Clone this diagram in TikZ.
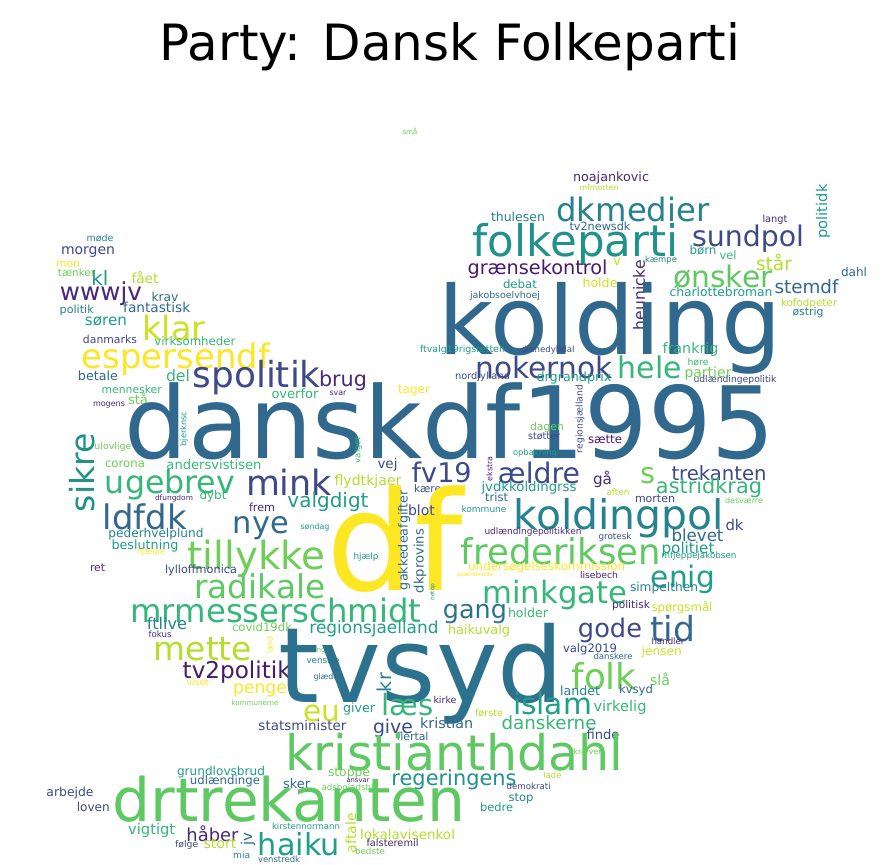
\documentclass[tikz,border=0pt]{standalone}
\usepackage{fontspec}
\setmainfont{DejaVu Sans}
\usepackage{graphicx}
\definecolor{V0}{RGB}{68,1,84}
\definecolor{V01}{RGB}{72,26,108}
\definecolor{V1}{RGB}{72,40,120}
\definecolor{V2}{RGB}{62,73,137}
\definecolor{V3}{RGB}{49,104,142}
\definecolor{V34}{RGB}{44,113,142}
\definecolor{V4}{RGB}{38,130,142}
\definecolor{V45}{RGB}{33,145,140}
\definecolor{V5}{RGB}{31,158,137}
\definecolor{V6}{RGB}{53,183,121}
\definecolor{V67}{RGB}{94,201,98}
\definecolor{V7}{RGB}{110,206,88}
\definecolor{V8}{RGB}{181,222,43}
\definecolor{V89}{RGB}{205,225,35}
\definecolor{V9}{RGB}{253,231,37}
\newcounter{wn}
\tikzset{wd/.style={inner sep=0pt,outer sep=0pt,font=\fontsize{10}{12}\selectfont}}
\newcommand\wcw[5]{\stepcounter{wn}\node[wd,text=#5] (w\thewn) at (#1,#2) {\resizebox{#3pt}{!}{#4}};}
\newcommand\wcr[5]{\stepcounter{wn}\node[wd,text=#5,rotate=90] (w\thewn) at (#1,#2) {\resizebox{#3pt}{!}{#4}};}
\begin{document}
\begin{tikzpicture}[x=1pt,y=-1pt]
\fill[white] (0,0) rectangle (892,865);
\useasboundingbox (0,0) rectangle (892,865);
\node[font=\fontsize{50}{60}\selectfont,anchor=base,inner sep=0pt] (title) at (450,60) {Party: Dansk Folkeparti};
% top / right
\wcw{410}{131}{15}{små}{V7}
\wcw{611}{178}{76}{noajankovic}{V1}
\wcw{599}{188}{39}{mfmorten}{V8}
\wcw{633}{209}{153}{dkmedier}{V4}
\wcw{518}{217}{54}{thulesen}{V4}
\wcw{600}{226}{61}{tv2newsdk}{V3}
\wcr{823}{211.5}{54}{politidk}{V5}
\wcw{775}{220}{25}{langt}{V1}
\wcw{748}{238.5}{112}{sundpol}{V2}
\wcw{575.5}{244}{206}{folkeparti}{V45}
\wcw{703}{250}{27}{børn}{V5}
\wcw{728}{255}{17}{vel}{V6}
\wcw{661}{260}{32}{kæmpe}{V4}
\wcw{617}{261.5}{8}{v}{V89}
\wcw{774}{262}{36}{står}{V8}
\wcw{537.5}{269}{140}{grænsekontrol}{V01}
\wcw{854}{272}{26}{dahl}{V3}
\wcw{723}{277}{99}{ønsker}{V67}
\wcw{600}{283}{35}{holde}{V89}
\wcw{520}{284}{34}{debat}{V5}
\wcw{806.5}{287}{64}{stemdf}{V3}
\wcw{721}{292}{103}{charlottebroman}{V5}
\wcr{639}{295}{70}{heunicke}{V1}
\wcw{505}{296}{70}{jakobsoelvhoej}{V3}
\wcw{809}{304}{56}{kofodpeter}{V8}
\wcw{808}{312}{31}{østrig}{V4}
\wcw{610}{328}{343}{kolding}{V3}
\wcw{690.5}{350}{56}{frankrig}{V6}
\wcw{698}{362.5}{21}{høre}{V6}
% left
\wcw{100}{238}{27}{møde}{V4}
\wcw{88}{252}{54}{morgen}{V2}
\wcw{68}{265}{24}{mon}{V9}
\wcw{76.5}{273}{37}{tænker}{V7}
\wcw{100}{277.5}{17}{kl}{V5}
\wcw{145}{278}{27}{fået}{V8}
\wcw{101}{294}{82}{wwwjv}{V1}
\wcw{165}{296.5}{27}{krav}{V3}
\wcw{156.7}{307}{67}{fantastisk}{V3}
\wcw{76.7}{310}{34}{politik}{V4}
\wcw{106}{321}{42}{søren}{V5}
\wcw{174}{328}{63}{klar}{V89}
\wcw{110}{339}{54}{danmarks}{V2}
\wcw{195}{341}{81}{virksomheder}{V6}
\wcw{176}{359.5}{188}{espersendf}{V9}
\wcw{178}{376}{24}{del}{V6}
\wcw{98}{376}{40}{betale}{V3}
\wcw{256.7}{378}{128}{spolitik}{V2}
\wcw{343}{381}{48}{brug}{V1}
\wcw{131.7}{389}{60}{mennesker}{V6}
\wcw{295}{394}{47}{overfor}{V6}
\wcw{338}{393}{17}{svar}{V1}
\wcw{138}{399}{20}{stå}{V7}
\wcw{109}{405.5}{32}{mogens}{V1}
\wcr{184}{429}{35}{bjerknsc}{V5}
\wcw{450}{421.5}{650}{danskdf1995}{V3}
\wcw{113}{447}{37}{ulovlige}{V7}
\wcr{82.5}{472.5}{79}{sikre}{V45}
\wcw{125}{464.5}{40}{corona}{V7}
\wcw{214}{464.5}{95}{andersvistisen}{V6}
\wcw{170}{485}{130}{ugebrev}{V6}
\wcw{289}{482.5}{86}{mink}{V2}
\wcw{174}{498}{38}{dfungdom}{V1}
\wcw{213}{496}{27}{dybt}{V6}
\wcw{328}{502}{81}{valgdigt}{V5}
\wcw{262}{507.5}{26}{frem}{V1}
\wcw{145}{516.7}{84}{ldfdk}{V3}
\wcw{261}{528}{56}{nye}{V3}
\wcw{156}{534}{95}{pederhvelplund}{V4}
\wcw{315}{527}{29}{søndag}{V5}
\wcw{145}{546}{67}{beslutning}{V5}
\wcw{151}{552}{28}{hjælpe}{V9}
\wcw{256.7}{559}{138}{tillykke}{V7}
\wcw{97.5}{568}{15}{ret}{V1}
\wcw{201}{570}{72}{lylloffmonica}{V2}
\wcw{260}{586}{131}{radikale}{V67}
\wcw{276}{610}{291}{mrmesserschmidt}{V6}
\wcw{167}{624}{40}{ftlive}{V4}
\wcw{262}{627}{60}{covid19dk}{V7}
\wcw{160}{634}{23}{fokus}{V1}
\wcw{203}{649}{98}{mette}{V8}
\wcr{270}{645}{17}{land}{V9}
\wcw{321}{651.5}{18}{unge}{V7}
\wcw{323}{660}{33}{venstre}{V4}
\wcw{327.5}{677}{28}{glæder}{V3}
\wcw{374}{629}{129}{regionsjaelland}{V5}
\wcw{236.7}{671.7}{108}{tv2politik}{V01}
\wcw{198}{681.5}{23}{viser}{V9}
\wcw{260}{690}{54}{penge}{V9}
\wcw{255}{703.3}{47}{kommunerne}{V7}
% centre
\wcw{462.5}{350}{85}{ftvalg19rigsretten}{V5}
\wcw{548}{350}{53}{dianedybdal}{V2}
\wcw{544}{367.5}{137}{nokernok}{V2}
\wcw{650}{367}{64}{hele}{V6}
\wcw{708}{374}{47}{partier}{V7}
\wcw{735}{380}{83}{udlændingepolitik}{V2}
\wcw{482.5}{377}{55}{nordjylland}{V2}
\wcw{574}{378}{75}{drgrandprix}{V5}
\wcw{414}{391}{32}{tager}{V9}
\wcr{580}{419}{68}{regionsjælland}{V2}
\wcw{547}{427}{34}{dagen}{V7}
\wcw{544}{436}{32}{støtter}{V2}
\wcw{605}{439}{34}{sætte}{V01}
\wcw{535}{453}{44}{opbakning}{V5}
\wcr{358}{450}{26}{valget}{V6}
\wcr{489.5}{469}{25}{ekstra}{V1}
\wcw{387.5}{465}{20}{vej}{V2}
\wcw{441.7}{472.5}{60}{fv19}{V2}
\wcw{539}{472.5}{82}{ældre}{V2}
\wcw{602.5}{479}{19}{gå}{V1}
\wcw{647.5}{476}{15}{s}{V7}
\wcw{719}{473}{95}{trekanten}{V2}
\wcw{709}{487.5}{106}{astridkrag}{V6}
\wcw{618}{492}{23}{aften}{V8}
\wcw{655}{499}{40}{morten}{V2}
\wcw{744}{500.7}{38}{desværre}{V7}
\wcw{368}{482}{67}{flydtkjaer}{V8}
\wcw{427.5}{488.3}{27}{kære}{V2}
\wcw{529}{487.5}{95}{jvdkkoldingrss}{V5}
\wcw{496.7}{497.5}{23}{trist}{V3}
\wcw{395}{539}{136}{df}{V9}
\wcw{421.5}{510}{27}{blot}{V2}
\wcw{484}{509.5}{45}{kommune}{V5}
\wcw{619}{518.5}{210}{koldingpol}{V4}
\wcw{734.5}{524.7}{18}{dk}{V2}
\wcw{533}{531.7}{97}{udlændingepolitikken}{V1}
\wcw{697.5}{535}{52}{blevet}{V3}
\wcw{615}{536.7}{33}{grotesk}{V2}
\wcr{404}{540}{100}{gakkedeafgifter}{V3}
\wcr{420}{561}{64}{dkprovins}{V3}
\wcw{561}{551}{200}{frederiksen}{V67}
\wcw{688}{549}{53}{politiet}{V5}
\wcw{699}{556}{75}{mfjeppejakobsen}{V5}
\wcw{366}{556.7}{25}{hjælp}{V5}
\wcw{546.7}{567.5}{157}{undersøgelseskommission}{V9}
\wcw{475}{575}{36}{spændende}{V9}
\wcw{599}{575}{38}{lisebech}{V1}
\wcw{683}{579}{64}{enig}{V5}
\wcw{664}{588}{68}{simpelthen}{V4}
\wcw{555}{595.5}{145}{minkgate}{V6}
\wcr{433}{592}{17}{netop}{V5}
\wcw{682}{607.5}{61}{spørgsmål}{V89}
\wcw{631}{606}{38}{politisk}{V1}
\wcw{528}{612.5}{40}{holder}{V6}
\wcw{475}{614}{64}{gang}{V34}
\wcw{610}{630}{64}{gode}{V2}
\wcw{672.5}{628.3}{45}{tid}{V3}
\wcw{479}{631}{62}{haikuvalg}{V8}
\wcw{668}{641.7}{33}{handler}{V1}
\wcw{590}{649}{54}{valg2019}{V2}
\wcw{613}{656}{39}{danskere}{V3}
\wcw{661.7}{652}{40}{jensen}{V89}
\wcw{421.5}{674}{285}{tvsyd}{V34}
\wcw{604}{676}{65}{folk}{V7}
\wcw{660}{679.5}{20}{slå}{V7}
\wcw{580}{690.5}{40}{landet}{V4}
\wcw{636}{690}{34}{kvsyd}{V3}
\wcr{384}{682.5}{19}{kr}{V4}
\wcw{552.5}{703}{79}{islam}{V5}
\wcw{620}{707.5}{53}{virkelig}{V6}
\wcw{321.7}{713.3}{37}{eu}{V89}
\wcw{407.5}{705}{52}{læs}{V6}
\wcw{359}{709}{32}{giver}{V5}
\wcw{445}{700}{23}{kirke}{V1}
\wcw{489}{713}{28}{første}{V8}
\wcw{549}{723}{95}{danskerne}{V6}
\wcw{302.5}{725.8}{88}{statsminister}{V2}
\wcw{393}{728}{40}{give}{V2}
\wcw{446.7}{723.3}{53}{kristian}{V3}
\wcw{412.5}{736.7}{32}{flertal}{V3}
\wcw{603}{735}{33}{finde}{V2}
\wcw{454}{752}{338}{kristianthdahl}{V67}
\wcw{587.5}{752}{28}{kræver}{V7}
\wcw{221}{771.7}{88}{grundlovsbrud}{V5}
\wcw{349}{773.3}{42}{stoppe}{V7}
\wcw{552.5}{775.5}{18}{lade}{V8}
\wcw{454}{780}{125}{regeringens}{V45}
\wcw{358}{781}{23}{ansvar}{V1}
\wcw{225}{781.3}{70}{udlændinge}{V3}
\wcw{296.7}{783.3}{27}{sker}{V3}
\wcw{528.7}{786.3}{44}{demokrati}{V2}
\wcw{347.5}{787}{52}{adsboladsbl}{V7}
\wcw{70}{793.3}{47}{arbejde}{V2}
\wcw{521}{799}{25}{stop}{V4}
\wcw{289}{799.5}{353}{drtrekanten}{V67}
\wcw{93.3}{807}{33}{loven}{V2}
\wcw{496.7}{807.5}{33}{bedre}{V5}
\wcw{306}{826.3}{68}{kirstennormann}{V5}
\wcw{151.7}{830}{47}{vigtigt}{V6}
\wcr{351}{833}{40}{aftale}{V8}
\wcw{212.5}{833.3}{52}{håber}{V1}
\wcw{407.5}{834}{95}{lokalavisenkol}{V8}
\wcr{248}{839}{13}{jv}{V3}
\wcw{299}{844}{82}{haiku}{V5}
\wcw{220}{844}{33}{stort}{V8}
\wcw{186.7}{845}{23}{følge}{V2}
\wcw{392.5}{843.3}{52}{falsteremil}{V1}
\wcw{370}{851.7}{30}{bedste}{V7}
\wcw{241.7}{855}{17}{mia}{V4}
\wcw{279}{859}{42}{venstredk}{V3}
\end{tikzpicture}
\end{document}
